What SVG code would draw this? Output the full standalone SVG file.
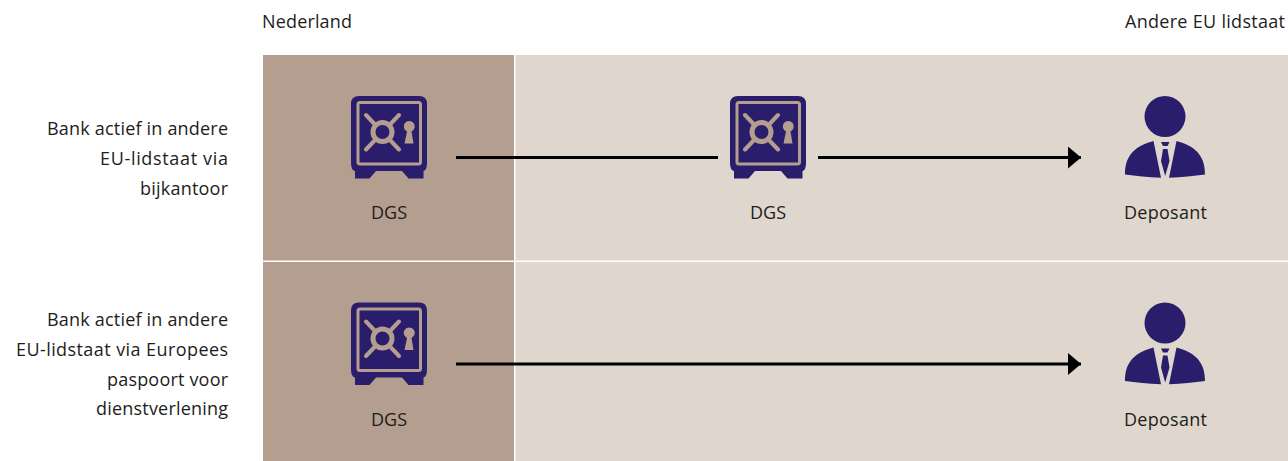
<svg xmlns="http://www.w3.org/2000/svg" width="1288" height="461" viewBox="0 0 1288 461">
<style>
text{font-family:"Open Sans","Noto Sans","Liberation Sans",sans-serif;font-size:18px;fill:#1d1d1b}
.m{text-anchor:middle}.e{text-anchor:end}
.c{stroke:#000;stroke-width:3;fill:none}
.ln{stroke:#b39e8f;fill:none}
.ink{fill:#2a1d6b}
</style>
<defs>
<marker id="ah" markerUnits="userSpaceOnUse" markerWidth="14" markerHeight="22" refX="13" refY="11" orient="auto"><path d="M0 0L13 11L0 22Z" fill="#000"/></marker>
<g id="safe">
<path class="ink" d="M359 96H419Q427 96 427 104V163Q427 170 423.500 171V178.500H408.500L402 171H376L369.500 178.500H355V171Q351 170 351 163V104Q351 96 359 96Z"/>
<rect class="ln" x="358" y="102.500" width="62.500" height="61.500" rx="2" stroke-width="3"/>
<circle class="ln" cx="382.500" cy="132" r="9.500" stroke-width="5"/>
<path class="ln" stroke-width="4" stroke-linecap="round" d="M366 115L375.500 125M399 115L389.500 125M366 149.500L375.500 139.500M399 149.500L389.500 139.500"/>
<path fill="#b39e8f" d="M407 131.500A5.500 5.500 0 1 1 411.500 131.500L413.500 143.500H404.500Z"/>
</g>
<g id="person">
<circle class="ink" cx="1165" cy="116.500" r="20.500"/>
<path class="ink" d="M1153.500 141L1161 177.800C1148 177.500 1136 176 1125 174.500C1125 159 1131 147 1153.500 141ZM1176.500 141L1169 177.800C1182 177.500 1194 176 1205 174.500C1205 159 1199 147 1176.500 141Z"/>
<path class="ink" d="M1161 142H1169.500L1167.500 146H1163ZM1163 149H1167.500L1169.500 161L1165.200 176L1161 161Z"/>
</g>
</defs>
<g id="panels">
<rect x="263" y="55" width="251" height="205.500" fill="#b39e8f"/>
<rect x="515.500" y="55" width="772.500" height="205.500" fill="#dfd7ce"/>
<rect x="263" y="262" width="251" height="199" fill="#b39e8f"/>
<rect x="515.500" y="262" width="772.500" height="199" fill="#dfd7ce"/>
</g>
<g id="headers">
<text x="262" y="27.500" textLength="90">Nederland</text>
<text x="1125" y="27.500" textLength="160">Andere EU lidstaat</text>
</g>
<g id="row-labels">
<text x="47" y="135" textLength="181">Bank actief in andere</text>
<text x="100" y="165" textLength="128">EU-lidstaat via</text>
<text x="140" y="195" textLength="88">bijkantoor</text>
<text x="47" y="326" textLength="181">Bank actief in andere</text>
<text x="16" y="356" textLength="212">EU-lidstaat via Europees</text>
<text x="107" y="386" textLength="121">paspoort voor</text>
<text x="96" y="415" textLength="132">dienstverlening</text>
</g>
<g id="connectors">
<path class="c" d="M456 157.500H718"/>
<path class="c" d="M818 157.500H1081" marker-end="url(#ah)"/>
<path class="c" d="M456 364H1081" marker-end="url(#ah)"/>
</g>
<g id="dgs-nl-1"><use href="#safe"/><text x="371" y="219" textLength="36">DGS</text></g>
<g id="dgs-eu-1"><use href="#safe" x="379"/><text x="750" y="219" textLength="36">DGS</text></g>
<g id="deposant-1"><use href="#person"/><text x="1124" y="219" textLength="83">Deposant</text></g>
<g id="dgs-nl-2"><use href="#safe" y="206.500"/><text x="371" y="426" textLength="36">DGS</text></g>
<g id="deposant-2"><use href="#person" y="206.500"/><text x="1124" y="426" textLength="83">Deposant</text></g>
</svg>
